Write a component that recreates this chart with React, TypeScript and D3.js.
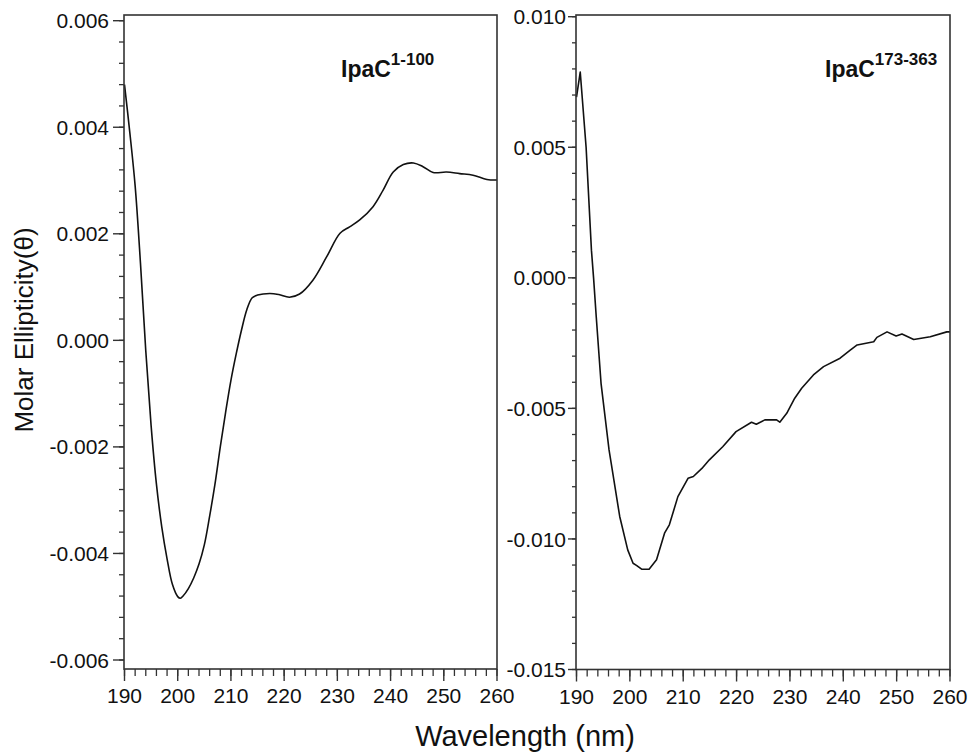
import React from "react";
import * as d3 from "d3";

// ---- Data ----
const leftWavelength = [190, 191, 192, 193, 194, 195, 196, 197, 198, 199, 200, 200.5, 201, 202, 203, 204, 205, 206, 207, 208, 209, 210, 211, 212, 213, 214, 215, 217.3, 219, 221, 222.9, 225.4, 228, 230.5, 232.3, 234.2, 236.7, 238.6, 240.5, 242.4, 244.3, 246.1, 248, 250.5, 253, 255.5, 258.1, 260];
const leftValues = [0.0048, 0.0039, 0.0029, 0.00145, -0.0002, -0.0016, -0.0027, -0.0035, -0.0041, -0.00458, -0.00481, -0.00484, -0.0048, -0.00466, -0.00446, -0.0042, -0.00384, -0.0033, -0.0027, -0.002, -0.00135, -0.00075, -0.00025, 0.0002, 0.00058, 0.0008, 0.00085, 0.00088, 0.00086, 0.00081, 0.00087, 0.00113, 0.00157, 0.00201, 0.00213, 0.00226, 0.00251, 0.00282, 0.00316, 0.0033, 0.00333, 0.00326, 0.00315, 0.00316, 0.00313, 0.0031, 0.00302, 0.00301];

const rightWavelength = [190, 190.7, 191.8, 192.8, 193.2, 193.7, 194.6, 196.1, 196.5, 198.1, 199.6, 200.6, 201.3, 202.2, 203.6, 205, 206.5, 207.4, 209, 210.9, 211.9, 213.5, 214.9, 217.4, 219.9, 222.8, 223.7, 225.3, 227.5, 228.1, 229.4, 230.9, 232.2, 234.4, 236.3, 239.4, 241.3, 242.6, 245.7, 246.3, 248.2, 249.9, 251, 253.2, 256.3, 259.4, 260];
const rightValues = [0.00692, 0.00788, 0.005, 0.00106, 0.0, -0.00149, -0.00404, -0.00659, -0.0071, -0.00914, -0.01042, -0.01093, -0.01102, -0.01116, -0.01116, -0.0108, -0.00978, -0.00946, -0.00838, -0.00768, -0.00761, -0.0073, -0.00697, -0.00647, -0.00589, -0.00553, -0.00561, -0.00544, -0.00544, -0.00553, -0.00519, -0.00461, -0.00423, -0.00372, -0.0034, -0.00308, -0.00277, -0.00257, -0.00245, -0.00228, -0.00207, -0.00223, -0.00215, -0.00236, -0.00226, -0.00207, -0.00207];

const xTicks = [190, 200, 210, 220, 230, 240, 250, 260];
const xMinorTicks = d3.range(190, 260.001, 2);
const leftYTicks = [-0.006, -0.004, -0.002, 0.0, 0.002, 0.004, 0.006];
const leftYMinor = d3.range(-0.006, 0.00601, 0.0004);
const rightYTicks = [-0.015, -0.01, -0.005, 0.0, 0.005, 0.01];
const rightYMinor = d3.range(-0.015, 0.01001, 0.001);

const leftTitle = "IpaC";
const leftSup = "1-100";
const rightTitle = "IpaC";
const rightSup = "173-363";
const xTitle = "Wavelength (nm)";
const yTitle = "Molar Ellipticity(\u03b8)";

const FONT = "'Liberation Sans', Arial, Helvetica, sans-serif";
const FRAME = "#333";

type PanelProps = {
  x0: number; x1: number; top: number; bottom: number;
  yDomain: [number, number]; yRange: [number, number];
  wl: number[]; vals: number[]; yTicks: number[]; yMinor: number[];
  title: string; sup: string; titleX: number; smooth: boolean;
  majorLen: number; minorLen: number; labelGap: number;
};

function Panel(p: PanelProps) {
  const x = d3.scaleLinear().domain([190, 260]).range([p.x0 + 0.5, p.x1]);
  const y = d3.scaleLinear().domain(p.yDomain).range(p.yRange);
  const pts = p.wl.map((w, i) => [w, p.vals[i]] as [number, number]);
  const line = d3.line<[number, number]>()
    .x((d) => x(d[0]))
    .y((d) => y(d[1]))
    .curve(p.smooth ? d3.curveCatmullRom.alpha(0.5) : d3.curveLinear);
  const fmt = (v: number) => d3.format(".3f")(v).replace("\u2212", "-");
  return (
    <g>
      <path d={line(pts) || ""} fill="none" stroke="#111" strokeWidth={1.6} strokeLinejoin="round" />
      <rect x={p.x0} y={p.top} width={p.x1 - p.x0} height={p.bottom - p.top} fill="none" stroke={FRAME} strokeWidth={1.6} />
      {p.yMinor.map((v, i) => (
        <line key={"ym" + i} x1={p.x0 - p.minorLen} x2={p.x0} y1={y(v)} y2={y(v)} stroke={FRAME} strokeWidth={1.3} />
      ))}
      {p.yTicks.map((v, i) => (
        <g key={"y" + i}>
          <line x1={p.x0 - p.majorLen} x2={p.x0} y1={y(v)} y2={y(v)} stroke={FRAME} strokeWidth={1.4} />
          <text x={p.x0 - p.majorLen - p.labelGap} y={y(v)} dy="0.36em" textAnchor="end" fontSize={21} fontFamily={FONT} fill="#111">
            {fmt(v)}
          </text>
        </g>
      ))}
      {xMinorTicks.map((v, i) => (
        <line key={"xm" + i} x1={x(v)} x2={x(v)} y1={p.bottom} y2={p.bottom + 7} stroke={FRAME} strokeWidth={1.3} />
      ))}
      {xTicks.map((v, i) => (
        <g key={"x" + i}>
          <line x1={x(v)} x2={x(v)} y1={p.bottom} y2={p.bottom + 12} stroke={FRAME} strokeWidth={1.4} />
          <text x={x(v)} y={p.bottom + 34} textAnchor="middle" fontSize={21} fontFamily={FONT} fill="#111">
            {v}
          </text>
        </g>
      ))}
      <text x={p.titleX} y={77} fontSize={23} fontWeight="bold" fontFamily={FONT} fill="#111">
        {p.title}
        <tspan dy={-12} fontSize={17}>{p.sup}</tspan>
      </text>
    </g>
  );
}

export default function App() {
  return (
    <svg width={974} height={756} style={{ position: "absolute", left: 0, top: 0, background: "#fff" }}>
      <rect x={0} y={0} width={974} height={756} fill="#fff" />
      <Panel x0={124} x1={497} top={15} bottom={669} yDomain={[-0.006, 0.006]} yRange={[660, 20.7]}
        wl={leftWavelength} vals={leftValues} yTicks={leftYTicks} yMinor={leftYMinor}
        title={leftTitle} sup={leftSup} titleX={341} smooth={true} majorLen={11} minorLen={5} labelGap={4} />
      <Panel x0={576} x1={950} top={15} bottom={669.5} yDomain={[-0.015, 0.01]} yRange={[669.5, 16.7]}
        wl={rightWavelength} vals={rightValues} yTicks={rightYTicks} yMinor={rightYMinor}
        title={rightTitle} sup={rightSup} titleX={825} smooth={false} majorLen={8} minorLen={4} labelGap={2} />
      <text x={525} y={746} textAnchor="middle" fontSize={29} fontFamily={FONT} fill="#111">{xTitle}</text>
      <text transform="translate(33,330) rotate(-90)" textAnchor="middle" fontSize={26} fontFamily={FONT} fill="#111">{yTitle}</text>
    </svg>
  );
}
